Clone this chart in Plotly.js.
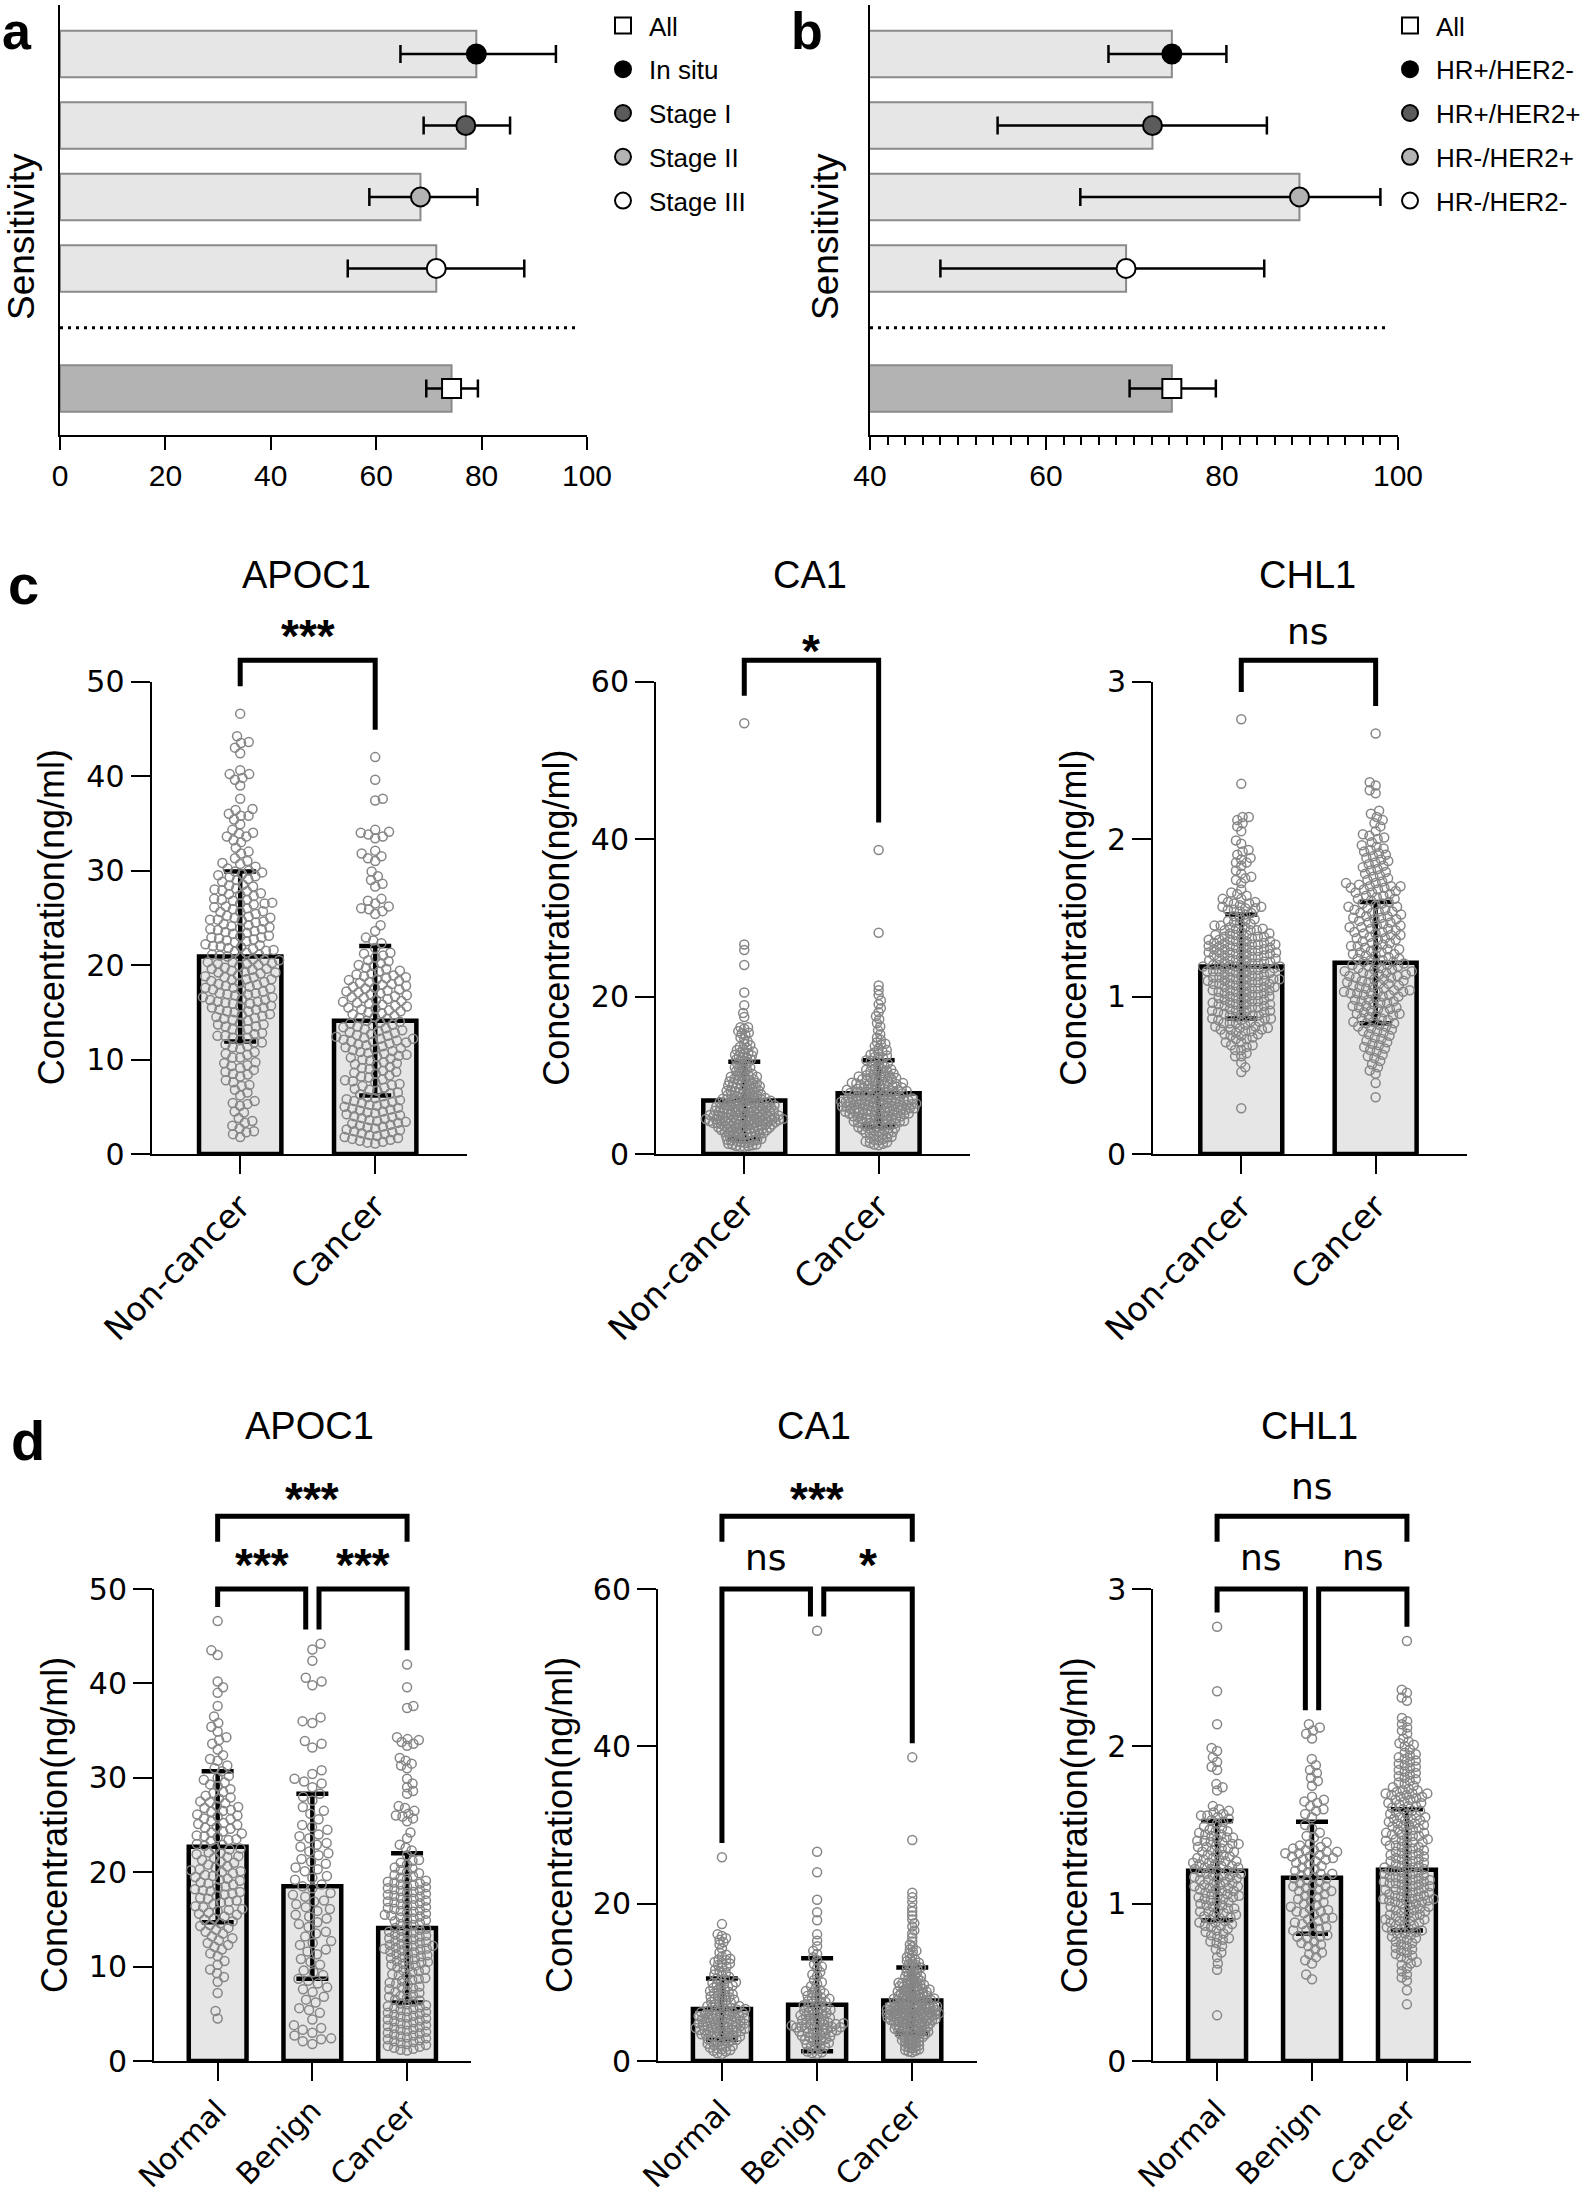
<!DOCTYPE html>
<html>
<head>
<meta charset="utf-8">
<script src="https://cdn.plot.ly/plotly-3.0.1.min.js"></script>
<style>
  body { margin: 0; background: #fff; }
  #fig { width: 1593px; height: 2200px; }
</style>
</head>
<body>
<div id="fig"></div>
<script>
// ---- a: sensitivity by stage ----
const stageNames = ['In situ', 'Stage I', 'Stage II', 'Stage III'];
const stageSens = [79.0, 77.0, 68.4, 71.4];
const stageLow = [64.6, 69.0, 58.7, 54.6];
const stageHigh = [94.1, 85.4, 79.2, 88.1];

// ---- b: sensitivity by subtype ----
const subtypeNames = ['HR+/HER2-', 'HR+/HER2+', 'HR-/HER2+', 'HR-/HER2-'];
const subtypeSens = [74.3, 72.1, 88.8, 69.1];
const subtypeLow = [67.1, 54.5, 63.9, 48.0];
const subtypeHigh = [80.5, 85.1, 98.0, 84.8];

// overall ("All")
const allSens = 74.3;
const allLow = 69.5;
const allHigh = 79.3;

// ---- c / d: serum concentrations (ng/ml) ----
const markerNames = ['APOC1', 'CA1', 'CHL1'];
const twoGroups = ['Non-cancer', 'Cancer'];
const threeGroups = ['Normal', 'Benign', 'Cancer'];

// bar heights (mean) and error bars (SD)
const apoc1TwoMean = [20.9, 14.1], apoc1TwoSd = [9.0, 7.9];
const ca1TwoMean = [6.8, 7.7], ca1TwoSd = [4.9, 4.2];
const chl1TwoMean = [1.19, 1.215], chl1TwoSd = [0.33, 0.385];
const apoc1ThreeMean = [22.7, 18.5, 14.1], apoc1ThreeSd = [8.0, 9.8, 7.9];
const ca1ThreeMean = [6.6, 7.15, 7.7], ca1ThreeSd = [3.9, 5.9, 4.2];
const chl1ThreeMean = [1.21, 1.164, 1.215], chl1ThreeSd = [0.315, 0.356, 0.385];

// significance labels
const twoGroupSig = ['***', '*', 'ns'];
const normalBenignSig = ['***', 'ns', 'ns'];
const benignCancerSig = ['***', '*', 'ns'];
const normalCancerSig = ['***', '***', 'ns'];

// individual samples
const apoc1Normal = [4.5, 5.3, 7.2, 8.4, 8.9, 9.3, 9.7, 10.2, 10.6, 11.1, 11.4, 11.8, 12.1, 12.5, 12.8, 13.2, 13.5, 13.9,
  14.1, 14.3, 14.6, 14.8, 15.0, 15.3, 15.5, 15.7, 15.9, 16.1, 16.3, 16.6, 16.8, 17.0, 17.3, 17.5, 17.7, 17.9,
  18.1, 18.2, 18.5, 18.7, 18.9, 19.1, 19.3, 19.5, 19.7, 19.9, 20.0, 20.2, 20.3, 20.5, 20.8, 21.0, 21.3, 21.5, 21.7, 21.9,
  22.1, 22.4, 22.6, 22.8, 23.0, 23.3, 23.5, 23.7, 23.9, 24.1, 24.3, 24.6, 24.8, 25.0, 25.2, 25.4, 25.7, 25.9,
  26.1, 26.4, 26.6, 26.8, 27.0, 27.3, 27.5, 27.8, 28.1, 28.4, 28.8, 29.1, 29.5, 29.8, 30.2, 30.7, 31.3, 31.8,
  32.4, 33.0, 33.6, 34.3, 34.9, 35.4, 35.8, 36.5, 37.6, 39.0, 39.6, 40.2, 43.0, 43.5, 46.6,
  12.3, 13.0, 13.7, 14.4, 15.1, 15.6, 16.0, 16.4, 16.9, 17.2, 17.6, 18.0, 18.4, 18.8, 19.2, 19.6, 20.1, 20.6, 21.1, 21.6,
  22.0, 22.5, 22.9, 23.4, 23.8, 24.2, 24.7, 25.1, 25.6, 26.0, 26.5, 26.9, 27.4, 27.9, 28.5, 29.3, 30.0, 31.0, 32.0, 34.0];
const apoc1Benign = [1.8, 2.1, 2.3, 2.4, 2.7, 3.0, 3.3, 3.8, 4.4, 5.1, 5.6, 6.2, 6.8, 7.3, 7.8, 8.2, 8.7, 9.1, 9.6,
  10.2, 10.8, 11.3, 11.8, 12.3, 12.7, 13.2, 13.7, 14.2, 14.7, 15.1, 15.5, 15.9, 16.3, 16.6, 17.0, 17.4, 17.8, 18.3, 18.7,
  19.2, 19.6, 20.1, 20.5, 20.9, 21.4, 21.8, 22.2, 22.7, 23.1, 23.6, 24.0, 24.5, 25.0, 25.6, 26.2, 26.9, 27.6, 28.3,
  29.0, 29.4, 29.6, 29.9, 30.4, 30.8, 33.2, 33.6, 33.9, 35.8, 36.0, 36.4, 39.8, 40.2, 40.6, 42.4, 43.6, 44.2,
  3.5, 5.4, 6.5, 7.6, 8.5, 9.4, 10.5, 11.6, 12.5, 13.5, 14.5, 15.3, 16.1, 16.9, 17.6, 18.5, 19.4, 20.3, 21.1, 22.0,
  22.9, 23.8, 24.8, 26.5, 28.0];
const apoc1Cancer = [1.1, 1.2, 1.4, 1.5, 1.6, 1.8, 1.9, 2.0, 2.2, 2.3, 2.5, 2.6, 2.8, 2.9,
  3.1, 3.2, 3.4, 3.6, 3.7, 3.9, 4.1, 4.2, 4.4, 4.6, 4.8, 5.0, 5.2, 5.3, 5.5, 5.7, 5.9,
  6.1, 6.3, 6.5, 6.7, 6.8, 7.0, 7.2, 7.4, 7.6, 7.7, 7.9, 8.1, 8.3, 8.5, 8.6, 8.8, 9.0, 9.2, 9.4, 9.5, 9.7, 9.9,
  10.0, 10.2, 10.3, 10.5, 10.6, 10.8, 10.9, 11.0, 11.2, 11.3, 11.4, 11.6, 11.7, 11.8, 11.9, 12.0, 12.1, 12.2, 12.3, 12.4,
  12.6, 12.8, 12.9, 13.1, 13.3, 13.4, 13.6, 13.8, 13.9, 14.1, 14.3, 14.4, 14.6, 14.8, 14.9,
  15.0, 15.1, 15.3, 15.4, 15.5, 15.7, 15.8, 15.9, 16.0, 16.2, 16.3, 16.4, 16.6, 16.7, 16.8, 17.0, 17.1, 17.2,
  17.4, 17.5, 17.6, 17.8, 17.9, 18.0, 18.2, 18.3, 18.5, 18.6, 18.8, 18.9,
  19.1, 19.4, 19.7, 19.9, 20.2, 20.5, 20.8, 21.0, 21.3, 21.8, 22.3, 22.9, 23.6, 24.2,
  25.4, 25.7, 26.0, 26.2, 26.5, 26.8, 27.0, 28.3, 28.6, 29.0, 29.4, 29.9, 31.0, 31.3, 31.5, 31.8, 32.1,
  33.4, 33.6, 33.8, 34.0, 34.1, 34.3, 37.4, 37.6, 39.6, 42.0,
  1.3, 1.7, 2.1, 2.4, 2.7, 3.0, 3.3, 3.5, 3.8, 4.0, 4.3, 4.5, 4.7, 4.9, 5.1, 5.4, 5.6, 5.8, 6.0, 6.4,
  6.9, 7.3, 7.8, 8.2, 8.7, 9.1, 9.6, 10.1, 10.4, 10.7, 11.1, 11.5, 11.9, 12.2, 12.5, 12.7, 13.0, 13.2, 13.5, 13.7,
  14.0, 14.5, 15.2, 15.6, 16.1, 16.5, 16.9, 17.3, 17.7, 18.1, 18.4, 18.7, 19.0, 19.3, 19.6, 20.0, 20.4, 21.2, 22.6, 25.9];

const ca1Normal = [0.9, 1.0, 1.2, 1.3, 1.5, 1.6, 1.8, 1.9, 2.0, 2.1, 2.2, 2.4, 2.5, 2.6, 2.7, 2.8, 2.9,
  3.0, 3.1, 3.15, 3.2, 3.3, 3.4, 3.5, 3.55, 3.6, 3.7, 3.8, 3.85, 3.9, 4.0, 4.05, 4.1, 4.2, 4.25, 4.3, 4.4, 4.45,
  4.5, 4.6, 4.65, 4.7, 4.8, 4.85, 4.9, 5.0, 5.1, 5.2, 5.25, 5.3, 5.4, 5.5, 5.6, 5.7, 5.75, 5.8, 5.9,
  6.0, 6.1, 6.2, 6.3, 6.4, 6.5, 6.6, 6.7, 6.8, 6.9, 7.0, 7.1, 7.3, 7.4, 7.5, 7.7, 7.8, 7.9,
  8.0, 8.1, 8.3, 8.4, 8.5, 8.7, 8.8, 8.9, 9.1, 9.3, 9.4, 9.6, 9.8, 9.9, 10.2, 10.4, 10.7, 10.9, 11.2, 11.6, 11.9,
  12.2, 12.4, 12.6, 12.8, 13.0, 13.3, 13.8, 14.3, 14.8, 15.4, 15.6, 15.9, 16.1, 17.4, 25.9,
  1.4, 1.7, 2.3, 2.65, 3.05, 3.35, 3.65, 3.95, 4.15, 4.35, 4.55, 4.75, 4.95, 5.15, 5.35, 5.45, 5.65, 5.85, 5.95, 6.15,
  6.35, 6.55, 6.75, 6.95, 7.2, 7.6, 8.2, 8.6, 9.0, 9.5, 9.7, 10.0, 10.5, 11.0, 11.4, 12.0, 12.5, 12.9, 13.5, 15.1];
const ca1Benign = [0.9, 1.0, 1.2, 1.5, 1.7, 1.9, 2.1, 2.3, 2.5, 2.6, 2.8, 2.9,
  3.0, 3.1, 3.2, 3.4, 3.5, 3.6, 3.7, 3.8, 3.9, 4.0, 4.1, 4.2, 4.3, 4.35, 4.4, 4.5, 4.6, 4.7, 4.8, 4.9,
  5.0, 5.2, 5.3, 5.5, 5.6, 5.7, 5.8, 5.9, 6.1, 6.2, 6.4, 6.5, 6.7, 6.8, 6.9, 7.1, 7.3, 7.4, 7.6, 7.8, 7.9,
  8.1, 8.3, 8.5, 8.7, 8.9, 9.2, 9.5, 9.8, 10.3, 10.8, 11.3, 11.8, 12.3, 12.8,
  13.6, 14.0, 14.6, 15.3, 16.1, 17.9, 18.9, 20.5, 24.0, 26.6, 54.7,
  1.1, 1.8, 2.2, 2.7, 3.3, 3.75, 4.05, 4.25, 4.45, 4.65, 4.85, 5.1, 5.4, 6.0, 6.3, 6.6, 7.0, 7.5, 8.0, 8.6,
  9.0, 10.0, 11.0, 12.0, 13.2];
const ca1Cancer = [1.1, 1.2, 1.4, 1.5, 1.7, 1.8, 1.9, 2.0, 2.1, 2.2, 2.4, 2.5, 2.6, 2.7, 2.8, 2.9,
  3.0, 3.1, 3.2, 3.3, 3.4, 3.5, 3.6, 3.7, 3.8, 3.9, 3.95, 4.0, 4.1, 4.15, 4.2, 4.3, 4.35, 4.4, 4.5, 4.55, 4.6, 4.7, 4.75, 4.8, 4.9,
  5.0, 5.05, 5.1, 5.15, 5.2, 5.3, 5.35, 5.4, 5.45, 5.5, 5.6, 5.65, 5.7, 5.75, 5.8, 5.85, 5.9, 5.95,
  6.0, 6.05, 6.1, 6.15, 6.2, 6.25, 6.3, 6.35, 6.4, 6.45, 6.5, 6.55, 6.6, 6.65, 6.7, 6.75, 6.8, 6.85, 6.9, 6.95,
  7.0, 7.05, 7.1, 7.2, 7.25, 7.3, 7.4, 7.45, 7.5, 7.6, 7.65, 7.7, 7.75, 7.8, 7.85, 7.9, 7.95,
  8.0, 8.1, 8.15, 8.2, 8.3, 8.35, 8.4, 8.5, 8.6, 8.65, 8.7, 8.8, 8.9, 8.95,
  9.0, 9.1, 9.2, 9.3, 9.4, 9.5, 9.6, 9.7, 9.8, 9.9, 9.95, 10.1, 10.2, 10.3, 10.5, 10.6, 10.7, 10.8, 10.9,
  11.1, 11.3, 11.5, 11.6, 11.8, 11.9, 12.1, 12.3, 12.5, 12.7, 12.9, 13.2, 13.4, 13.7, 13.9, 14.2, 14.5, 14.8,
  15.2, 15.7, 16.2, 16.6, 17.1, 17.5, 18.0, 18.5, 19.0, 19.5, 20.2, 20.8, 21.4, 28.1, 38.6,
  1.3, 1.6, 2.3, 2.65, 3.05, 3.25, 3.45, 3.65, 3.85, 4.05, 4.25, 4.45, 4.65, 4.85, 4.95, 5.02, 5.12, 5.22, 5.32, 5.42,
  5.52, 5.62, 5.72, 5.82, 5.92, 6.02, 6.12, 6.22, 6.32, 6.42, 6.52, 6.62, 6.72, 6.82, 6.92, 7.02, 7.12, 7.32, 7.52, 7.72,
  7.92, 8.05, 8.25, 8.45, 8.75, 8.85, 9.05, 9.25, 9.45, 9.65, 9.85, 10.0, 10.4, 10.75, 11.2, 11.7, 12.2, 12.6, 13.0, 14.0];

const chl1Normal = [0.29, 0.58, 0.62, 0.66, 0.69, 0.71, 0.73, 0.75, 0.77, 0.78, 0.79,
  0.80, 0.82, 0.83, 0.84, 0.85, 0.86, 0.87, 0.88, 0.89, 0.90, 0.91, 0.92, 0.93, 0.94, 0.95, 0.96, 0.97, 0.98, 0.99,
  1.00, 1.01, 1.02, 1.03, 1.04, 1.05, 1.05, 1.06, 1.07, 1.08, 1.09, 1.09,
  1.10, 1.11, 1.12, 1.12, 1.13, 1.14, 1.15, 1.16, 1.16, 1.17, 1.18, 1.19, 1.19,
  1.20, 1.21, 1.22, 1.22, 1.23, 1.24, 1.24, 1.25, 1.26, 1.27, 1.28, 1.28, 1.29,
  1.30, 1.31, 1.32, 1.33, 1.34, 1.35, 1.36, 1.37, 1.38, 1.39, 1.39,
  1.40, 1.41, 1.42, 1.43, 1.44, 1.45, 1.46, 1.47, 1.49, 1.51, 1.53, 1.54, 1.55, 1.56, 1.57, 1.58, 1.59,
  1.62, 1.72, 1.74, 1.76, 1.85, 1.87, 1.90, 1.93, 1.97, 1.99, 2.14, 2.35, 2.76,
  0.76, 0.81, 0.86, 0.88, 0.91, 0.93, 0.95, 0.97, 0.99, 1.01, 1.03, 1.04, 1.06, 1.08, 1.10, 1.11, 1.13, 1.15, 1.17, 1.18,
  1.20, 1.21, 1.23, 1.25, 1.26, 1.27, 1.29, 1.31, 1.33, 1.35, 1.36, 1.38, 1.40, 1.42, 1.44, 1.46, 1.48, 1.52, 1.56, 1.60];
const chl1Benign = [0.52, 0.55, 0.62, 0.64, 0.66, 0.69, 0.71, 0.73, 0.75, 0.76, 0.78, 0.79,
  0.80, 0.81, 0.83, 0.84, 0.85, 0.86, 0.88, 0.89, 0.90, 0.91, 0.93, 0.94, 0.95, 0.96, 0.98, 0.99,
  1.00, 1.02, 1.03, 1.04, 1.06, 1.07, 1.08, 1.09, 1.10, 1.11, 1.12, 1.14, 1.15, 1.16, 1.17, 1.18, 1.19,
  1.20, 1.22, 1.23, 1.24, 1.26, 1.27, 1.28, 1.29, 1.30, 1.31, 1.32, 1.33, 1.33, 1.34, 1.35, 1.36, 1.38, 1.39,
  1.42, 1.45, 1.48, 1.55, 1.57, 1.59, 1.60, 1.62, 1.64, 1.66, 1.68,
  1.75, 1.78, 1.80, 1.83, 1.85, 1.88, 1.92, 2.05, 2.08, 2.10, 2.12, 2.14,
  0.68, 0.74, 0.79, 0.83, 0.87, 0.91, 0.95, 0.97, 1.01, 1.05, 1.08, 1.11, 1.13, 1.16, 1.19, 1.21, 1.25, 1.28, 1.30, 1.32,
  1.34, 1.37, 1.43, 1.50, 1.65];
const chl1Cancer = [0.36, 0.45, 0.51, 0.53, 0.55, 0.57, 0.59, 0.61, 0.63, 0.65, 0.67, 0.68, 0.69,
  0.70, 0.72, 0.73, 0.74, 0.76, 0.77, 0.78, 0.79, 0.80, 0.81, 0.82, 0.83, 0.83, 0.84, 0.85, 0.86, 0.87, 0.88, 0.89, 0.89,
  0.90, 0.91, 0.92, 0.93, 0.93, 0.94, 0.95, 0.96, 0.97, 0.97, 0.98, 0.99,
  1.00, 1.01, 1.01, 1.02, 1.02, 1.03, 1.03, 1.04, 1.04, 1.05, 1.06, 1.07, 1.07, 1.08, 1.09, 1.09,
  1.10, 1.11, 1.11, 1.12, 1.13, 1.13, 1.14, 1.14, 1.15, 1.16, 1.16, 1.17, 1.18, 1.18, 1.19, 1.20, 1.20,
  1.21, 1.22, 1.23, 1.23, 1.24, 1.25, 1.26, 1.27, 1.27, 1.28, 1.29, 1.30, 1.31, 1.31, 1.32, 1.33, 1.34,
  1.35, 1.36, 1.37, 1.38, 1.39, 1.40, 1.40, 1.41, 1.42, 1.43, 1.44, 1.44, 1.45, 1.46, 1.47, 1.48, 1.49,
  1.50, 1.50, 1.51, 1.52, 1.53, 1.54, 1.54, 1.55, 1.56, 1.57, 1.58, 1.59, 1.60, 1.61, 1.62, 1.63, 1.64,
  1.65, 1.66, 1.67, 1.68, 1.69, 1.69, 1.70, 1.70, 1.71, 1.72, 1.73, 1.74, 1.76, 1.77, 1.78, 1.80, 1.81, 1.82,
  1.84, 1.85, 1.86, 1.88, 1.89, 1.90, 1.92, 1.93, 1.94, 1.96, 1.98, 2.00, 2.01, 2.03, 2.05,
  2.08, 2.10, 2.12, 2.14, 2.16, 2.18, 2.29, 2.31, 2.34, 2.36, 2.67,
  0.62, 0.66, 0.71, 0.75, 0.78, 0.81, 0.84, 0.86, 0.88, 0.90, 0.92, 0.94, 0.96, 0.98, 1.00, 1.02, 1.03, 1.05, 1.06, 1.08,
  1.10, 1.12, 1.14, 1.15, 1.17, 1.19, 1.21, 1.22, 1.24, 1.26, 1.28, 1.30, 1.32, 1.34, 1.36, 1.37, 1.39, 1.41, 1.43, 1.45,
  1.47, 1.49, 1.51, 1.53, 1.55, 1.57, 1.59, 1.62, 1.64, 1.66, 1.68, 1.70, 1.72, 1.75, 1.79, 1.83, 1.87, 1.91, 1.95, 2.02];

// ---------------------------------------------------------------
const W = 1593, H = 2200;
const SANS = 'Liberation Sans, Arial, Helvetica, sans-serif';
const WIDE = 'DejaVu Sans, Verdana, sans-serif';
const px = v => v / W;
const py = v => 1 - v / H;
const axId = (letter, k) => letter + (k === 1 ? '' : k);
const axKey = (letter, k) => letter + 'axis' + (k === 1 ? '' : k);

const traces = [];
const layout = {
  width: W, height: H,
  margin: { l: 0, r: 0, t: 0, b: 0 },
  paper_bgcolor: '#fff', plot_bgcolor: 'rgba(0,0,0,0)',
  font: { family: SANS, color: '#000' },
  hovermode: false,
  showlegend: true,
  shapes: [],
  annotations: []
};

function note(text, x, y, opts) {
  layout.annotations.push(Object.assign({
    text: text, x: x, y: y, xref: 'paper', yref: 'paper',
    showarrow: false, xanchor: 'center', yanchor: 'middle'
  }, opts));
}

// ---- panels a / b ----
const rowPos = [5, 4, 3, 2];
const allPos = 0.32;
const dividerPos = 1.17;
const sensRange = [-0.33, 5.685];
const groupFill = ['#000000', '#5b5b5b', '#b3b3b3', '#ffffff'];

function sensitivityPanel(k, names, sens, lo, hi, xRange, domPx, legendId, legendLeft, dividerEnd) {
  const xa = axId('x', k), ya = axId('y', k);
  const errStyle = { type: 'data', symmetric: false, color: '#000', thickness: 2.5, width: 9, visible: true };

  traces.push({
    type: 'bar', orientation: 'h', xaxis: xa, yaxis: ya,
    x: sens.concat([allSens]), y: rowPos.concat([allPos]), width: 0.65,
    marker: { color: ['#e6e6e6', '#e6e6e6', '#e6e6e6', '#e6e6e6', '#b3b3b3'], line: { color: '#8a8a8a', width: 2 } },
    showlegend: false, hoverinfo: 'skip'
  });
  traces.push({
    type: 'scatter', mode: 'markers', xaxis: xa, yaxis: ya, name: 'All',
    x: [allSens], y: [allPos], cliponaxis: false,
    marker: { symbol: 'square', size: 19, color: '#fff', line: { color: '#000', width: 2 } },
    error_x: Object.assign({ array: [allHigh - allSens], arrayminus: [allSens - allLow] }, errStyle),
    legend: legendId, legendgroup: legendId + 'all'
  });
  names.forEach((n, i) => {
    traces.push({
      type: 'scatter', mode: 'markers', xaxis: xa, yaxis: ya, name: n,
      x: [sens[i]], y: [rowPos[i]], cliponaxis: false,
      marker: { symbol: 'circle', size: 19, color: groupFill[i], line: { color: '#000', width: 2 } },
      error_x: Object.assign({ array: [hi[i] - sens[i]], arrayminus: [sens[i] - lo[i]] }, errStyle),
      legend: legendId, legendgroup: legendId + i
    });
  });

  const axisLine = { showline: true, linewidth: 2, linecolor: '#000', showgrid: false, zeroline: false, fixedrange: true };
  layout[axKey('x', k)] = Object.assign({
    domain: [px(domPx[0]), px(domPx[1])], range: xRange, anchor: ya,
    tick0: xRange[0], dtick: 20, ticks: 'outside', ticklen: 13, tickwidth: 2, tickcolor: '#000',
    tickfont: { family: SANS, size: 30 }
  }, axisLine);
  if (k === 2) {
    layout[axKey('x', k)].minor = { dtick: 2, tick0: 40, ticks: 'outside', ticklen: 8, tickwidth: 2, tickcolor: '#000' };
  }
  layout[axKey('y', k)] = Object.assign({
    domain: [py(435), py(5)], range: sensRange, anchor: xa,
    showticklabels: false, ticks: ''
  }, axisLine);

  const dv = (dividerPos - sensRange[0]) / (sensRange[1] - sensRange[0]);
  layout.shapes.push({
    type: 'line', xref: xa + ' domain', yref: ya + ' domain', x0: 0, x1: dividerEnd, y0: dv, y1: dv,
    line: { color: '#000', width: 3, dash: '3px,5px' }
  });

  layout[legendId] = {
    x: px(legendLeft), y: py(2), xanchor: 'left', yanchor: 'top',
    font: { family: SANS, size: 26, color: '#000' }, bgcolor: 'rgba(0,0,0,0)',
    itemwidth: 42, tracegroupgap: 7, traceorder: 'grouped', itemclick: false
  };
}

sensitivityPanel(1, stageNames, stageSens, stageLow, stageHigh, [0, 100], [60, 587], 'legend', 597, 0.985);
sensitivityPanel(2, subtypeNames, subtypeSens, subtypeLow, subtypeHigh, [40, 100], [870, 1398], 'legend2', 1384, 0.983);

note('Sensitivity', px(22), py(237), { textangle: -90, font: { family: SANS, size: 37 } });
note('Sensitivity', px(826), py(237), { textangle: -90, font: { family: SANS, size: 37 } });

// ---- panels c / d: bar + scatter-dot plots ----
const DOT = 10;          // collision diameter of the sample dots, px
const BAR_W = 0.61;

function swarm(ysPx, gap) {
  const order = ysPx.map((v, i) => i).sort((a, b) => ysPx[a] - ysPx[b]);
  const xs = new Array(ysPx.length).fill(0);
  const placed = [];
  let flip = false;
  for (const i of order) {
    const y = ysPx[i];
    const near = placed.filter(p => Math.abs(p.y - y) < gap);
    const cands = [0];
    near.forEach(p => {
      const dx = Math.sqrt(gap * gap - (p.y - y) * (p.y - y));
      cands.push(p.x + dx, p.x - dx);
    });
    cands.sort((a, b) => Math.abs(a) - Math.abs(b) || (flip ? a - b : b - a));
    flip = !flip;
    let best = cands[cands.length - 1];
    for (const c of cands) {
      if (near.every(p => (p.x - c) * (p.x - c) + (p.y - y) * (p.y - y) >= gap * gap - 0.01)) { best = c; break; }
    }
    xs[i] = best;
    placed.push({ x: best, y: y });
  }
  return xs;
}

// shrink the spacing until the swarm fits inside the bar, like Prism does
function fitSwarm(ysPx, halfWidth) {
  const widest = a => Math.max.apply(null, a.map(Math.abs));
  let xs = swarm(ysPx, DOT);
  if (widest(xs) <= halfWidth) return xs;
  let lo = 1.5, hi = DOT;
  xs = swarm(ysPx, lo);
  for (let it = 0; it < 14; it++) {
    const mid = (lo + hi) / 2;
    const t = swarm(ysPx, mid);
    if (widest(t) <= halfWidth) { lo = mid; xs = t; } else { hi = mid; }
  }
  return xs;
}

const isStar = label => label.indexOf('*') >= 0;

function dotBarPanel(k, o) {
  const xa = axId('x', k), ya = axId('y', k);
  const n = o.groups.length;
  const pos = o.groups.map((g, i) => i);
  const pxPerX = (o.right - o.left) / (o.xRange[1] - o.xRange[0]);
  const pxPerY = (o.bot - o.top) / o.ymax;
  const xDom = v => (v - o.xRange[0]) / (o.xRange[1] - o.xRange[0]);

  traces.push({
    type: 'bar', xaxis: xa, yaxis: ya, x: pos, y: o.means, width: BAR_W,
    marker: { color: '#e6e6e6', line: { color: '#000', width: 4.5 } },
    error_y: { type: 'data', array: o.sds, visible: true, color: '#000', thickness: 4.5, width: 16 },
    showlegend: false, hoverinfo: 'skip'
  });

  const halfW = (BAR_W * pxPerX + 4.5) / 2 - 4.5;
  o.values.forEach((vals, gi) => {
    const off = fitSwarm(vals.map(v => v * pxPerY), halfW);
    traces.push({
      type: 'scatter', mode: 'markers', xaxis: xa, yaxis: ya,
      x: off.map(d => gi + d / pxPerX), y: vals, cliponaxis: false,
      marker: { symbol: 'circle-open', size: 9, color: '#868686', line: { width: 1.5 } },
      showlegend: false, hoverinfo: 'skip'
    });
  });

  layout[axKey('x', k)] = {
    domain: [px(o.left), px(o.right)], range: o.xRange, anchor: ya,
    tickvals: pos, ticktext: o.groups, tickangle: -45,
    ticks: 'outside', ticklen: 18, tickwidth: 2, tickcolor: '#000',
    showline: true, linewidth: 2, linecolor: '#000', showgrid: false, zeroline: false,
    tickfont: { family: WIDE, size: o.xFont }, fixedrange: true
  };
  layout[axKey('y', k)] = {
    domain: [py(o.bot), py(o.top)], range: [0, o.ymax], anchor: xa,
    tick0: 0, dtick: o.dtick, ticks: 'outside', ticklen: 19, tickwidth: 2, tickcolor: '#000',
    showline: true, linewidth: 2, linecolor: '#000', showgrid: false, zeroline: false,
    tickfont: { family: WIDE, size: 30 }, fixedrange: true
  };

  // significance brackets (y in fractions of the axis height)
  const maxOf = gi => Math.max.apply(null, o.values[gi]) / o.ymax;
  const legEnd = (gi, top) => Math.min(top - 0.02, maxOf(gi) + o.legGap);
  const bracket = (x0, x1, top, y0, y1, label, textY) => {
    layout.shapes.push({
      type: 'path', xref: xa + ' domain', yref: ya + ' domain',
      path: 'M' + xDom(x0) + ',' + y0 + ' L' + xDom(x0) + ',' + top + ' L' + xDom(x1) + ',' + top + ' L' + xDom(x1) + ',' + y1,
      line: { color: '#000', width: 5 }
    });
    const star = isStar(label);
    const size = star ? 46 : 36;
    layout.annotations.push({
      text: star ? '<b>' + label + '</b>' : label,
      xref: xa + ' domain', yref: ya + ' domain', x: xDom((x0 + x1) / 2), y: textY,
      showarrow: false, xanchor: 'center', yanchor: 'middle',
      yshift: star ? -0.2 * size : 0.087 * size,
      font: { family: star ? SANS : WIDE, size: size }
    });
  };
  if (n === 2) {
    const lab = o.sig[0];
    const ty = lab === '***' ? 1.115 : (lab === '*' ? 1.085 : 1.10);
    bracket(0, 1, 1.045, legEnd(0, 1.045), legEnd(1, 1.045), lab, ty);
  } else {
    bracket(0, 0.93, 1.0, legEnd(0, 1.0), legEnd(1, 1.0), o.sig[0], isStar(o.sig[0]) ? 1.07 : 1.06);
    bracket(1.07, 2, 1.0, legEnd(1, 1.0), legEnd(2, 1.0), o.sig[1], isStar(o.sig[1]) ? 1.07 : 1.06);
    bracket(0, 2, 1.154, 1.10, 1.10, o.sig[2], 1.21);
  }

  note(o.title, px((o.left + o.right) / 2 - 3), py(o.titleY), { font: { family: SANS, size: 38 } });
  note('Concentration(ng/ml)', px(o.left - o.titleOff), py((o.top + o.bot) / 2),
    { textangle: -90, font: { family: SANS, size: 36 } });
}

const cTop = 681.5, cBot = 1154;
const dTop = 1589, dBot = 2061;
const cLeft = [151.5, 656, 1153], cRight = [467, 970, 1467];
const dLeft = [154, 658, 1153.3], dRight = [471, 976.5, 1471];
const yMax = [50, 60, 3], yStep = [10, 20, 1];
const titleOffset = [100, 99, 79];

const normalSets = [apoc1Normal, ca1Normal, chl1Normal];
const benignSets = [apoc1Benign, ca1Benign, chl1Benign];
const cancerSets = [apoc1Cancer, ca1Cancer, chl1Cancer];
const twoMeans = [apoc1TwoMean, ca1TwoMean, chl1TwoMean];
const twoSds = [apoc1TwoSd, ca1TwoSd, chl1TwoSd];
const threeMeans = [apoc1ThreeMean, ca1ThreeMean, chl1ThreeMean];
const threeSds = [apoc1ThreeSd, ca1ThreeSd, chl1ThreeSd];

markerNames.forEach((m, i) => {
  dotBarPanel(3 + i, {
    title: m, groups: twoGroups,
    values: [normalSets[i].concat(benignSets[i]), cancerSets[i]],
    means: twoMeans[i], sds: twoSds[i], sig: [twoGroupSig[i]],
    ymax: yMax[i], dtick: yStep[i], xFont: 33,
    left: cLeft[i], right: cRight[i], top: cTop, bot: cBot, xRange: [-0.657, 1.68],
    legGap: 0.058, titleY: 575, titleOff: titleOffset[i]
  });
  dotBarPanel(6 + i, {
    title: m, groups: threeGroups,
    values: [normalSets[i], benignSets[i], cancerSets[i]],
    means: threeMeans[i], sds: threeSds[i],
    sig: [normalBenignSig[i], benignCancerSig[i], normalCancerSig[i]],
    ymax: yMax[i], dtick: yStep[i], xFont: 30,
    left: dLeft[i], right: dRight[i], top: dTop, bot: dBot, xRange: [-0.672, 2.675],
    legGap: 0.03, titleY: 1426, titleOff: titleOffset[i]
  });
});

// panel letters
note('<b>a</b>', px(0), py(0), { xanchor: 'left', yanchor: 'top', font: { family: SANS, size: 52 } });
note('<b>b</b>', px(789), py(0), { xanchor: 'left', yanchor: 'top', font: { family: SANS, size: 52 } });
note('<b>c</b>', px(6), py(607 + 11), { xanchor: 'left', yanchor: 'bottom', font: { family: SANS, size: 56 } });
note('<b>d</b>', px(9), py(1463 + 11), { xanchor: 'left', yanchor: 'bottom', font: { family: SANS, size: 56 } });

Plotly.newPlot('fig', traces, layout, { displayModeBar: false, staticPlot: true });
</script>
</body>
</html>
